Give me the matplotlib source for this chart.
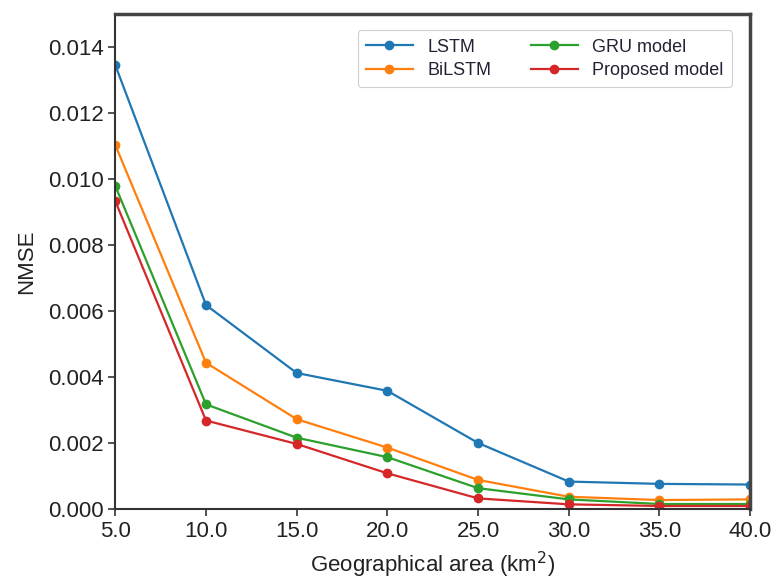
import matplotlib
matplotlib.use("Agg")
import matplotlib.pyplot as plt

plt.rcParams['font.family'] = ['Liberation Sans', 'DejaVu Sans']

areas = [5.0, 10.0, 15.0, 20.0, 25.0, 30.0, 35.0, 40.0]
lstm = [0.01345, 0.00618, 0.00412, 0.00358, 0.00200, 0.00083, 0.00076, 0.00074]
bilstm = [0.01103, 0.00443, 0.00272, 0.00186, 0.00088, 0.00037, 0.00027, 0.00029]
gru = [0.00979, 0.00317, 0.00216, 0.00157, 0.00063, 0.00029, 0.00015, 0.00015]
proposed = [0.00933, 0.00268, 0.00197, 0.00108, 0.00032, 0.00014, 0.00009, 0.00009]

series = [("LSTM", lstm, "#1f77b4"), ("BiLSTM", bilstm, "#ff7f0e"),
          ("GRU model", gru, "#2ca02c"), ("Proposed model", proposed, "#d62728")]
yticks = [0.000, 0.002, 0.004, 0.006, 0.008, 0.010, 0.012, 0.014]

fig = plt.figure(figsize=(7.79, 5.83), dpi=100)
ax = fig.add_axes([0.148, 0.127, 0.815, 0.849])
for name, vals, col in series:
    ax.plot(areas, vals, color=col, marker='o', markersize=6, linewidth=1.6, label=name)

ax.set_xlim(5, 40)
ax.set_ylim(0, 0.015)
ax.set_xticks(areas)
ax.set_xticklabels([f"{a:.1f}" for a in areas])
ax.set_yticks(yticks)
ax.set_yticklabels([f"{v:.3f}" for v in yticks])
ax.tick_params(axis='both', labelsize=16, length=5, width=1.2, color='#333333', labelcolor='#222222')
ax.set_xlabel("Geographical area (km$^2$)", fontsize=16, color='#222222', labelpad=6)
ax.set_ylabel("NMSE", fontsize=16, color='#222222', labelpad=8)

for s in ['left', 'bottom']:
    ax.spines[s].set_color('#333333')
    ax.spines[s].set_linewidth(1.5)
for s in ['top', 'right']:
    ax.spines[s].set_color('#444444')
    ax.spines[s].set_linewidth(2.5)

leg = ax.legend(loc='upper right', ncol=2, fontsize=13, bbox_to_anchor=(0.985, 0.985),
                handlelength=2.6, columnspacing=2.2, labelspacing=0.35, borderpad=0.45,
                frameon=True, edgecolor='#d0d0d0', framealpha=1.0, fancybox=True)
leg.get_frame().set_linewidth(0.8)
for t in leg.get_texts():
    t.set_color('#222233')

fig.savefig("out.png", dpi=100)
